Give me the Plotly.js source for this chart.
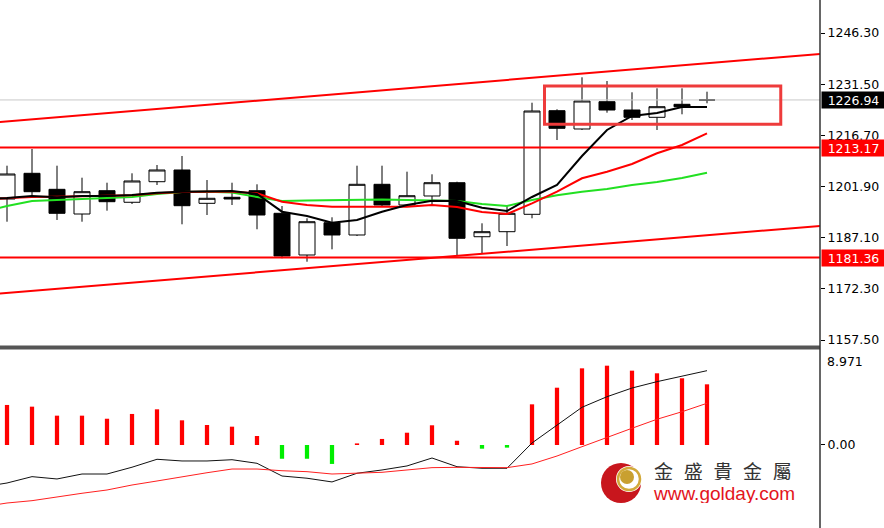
<!DOCTYPE html>
<html><head><meta charset="utf-8">
<script src="https://cdn.plot.ly/plotly-3.0.1.min.js"></script>
<style>html,body{margin:0;padding:0;background:#fff}#chart{width:884px;height:528px}</style>
</head><body><div id="chart"></div>
<script>
// ---- data ----
const candleIdx = [0,1,2,3,4,5,6,7,8,9,10,11,12,13,14,15,16,17,18,19,20,21,22,23,24,25,26,27,28];
const openP  = [1198.29,1205.72,1201.09,1193.95,1200.69,1197.34,1203.29,1206.68,1197.04,1198.78,1200.69,1194.15,1182.09,1191.43,1187.88,1202.54,1196.55,1199.16,1203.00,1187.38,1188.83,1193.86,1223.83,1218.54,1226.43,1224.03,1221.92,1225.68,1226.94];
const highP  = [1207.92,1212.75,1207.92,1204.45,1203.00,1205.72,1208.12,1210.73,1203.78,1203.00,1202.54,1196.26,1192.71,1193.00,1207.92,1207.92,1206.19,1205.43,1203.29,1191.26,1196.55,1226.14,1224.24,1233.49,1232.42,1229.15,1230.31,1230.31,1229.33];
const lowP   = [1191.72,1199.16,1192.22,1191.72,1194.91,1196.84,1202.34,1190.97,1193.66,1196.55,1189.53,1181.14,1180.15,1183.74,1187.59,1196.06,1196.06,1196.55,1182.09,1182.58,1184.69,1192.71,1215.35,1218.25,1223.25,1221.14,1218.25,1222.79,1225.97];
const closeP = [1205.52,1200.40,1194.15,1200.40,1197.51,1203.50,1206.68,1196.35,1198.49,1198.29,1193.66,1181.80,1191.72,1187.88,1202.54,1196.55,1199.24,1203.00,1186.92,1188.83,1194.15,1223.74,1218.74,1226.64,1224.03,1221.92,1224.99,1224.99,1226.94];

const lineIdx = [-1,0,1,2,3,4,5,6,7,8,9,10,11,12,13,14,15,16,17,18,19,20,21,22,23,24,25,26,27,28];
const maBlack = [1198.29,1198.58,1199.16,1198.78,1199.16,1199.16,1199.45,1200.11,1200.40,1200.60,1200.60,1199.74,1194.62,1193.37,1191.43,1192.20,1194.62,1196.55,1197.80,1197.71,1195.77,1194.82,1198.87,1202.34,1210.73,1218.25,1222.30,1223.17,1224.90,1224.90];
const maRed   = [1198.14,1198.49,1198.87,1198.96,1199.16,1199.16,1199.36,1199.94,1200.32,1200.40,1200.40,1199.94,1197.51,1196.55,1196.06,1196.06,1196.06,1196.06,1196.55,1195.98,1194.53,1193.95,1197.04,1200.40,1204.28,1206.19,1208.41,1211.51,1213.91,1217.29];
const maGreen = [1194.53,1196.26,1197.71,1198.00,1198.29,1198.43,1198.87,1199.74,1200.32,1200.40,1200.17,1198.87,1197.71,1197.86,1198.00,1198.14,1198.14,1198.00,1197.86,1197.71,1196.84,1196.26,1198.00,1199.36,1200.40,1201.18,1202.34,1203.21,1204.37,1205.90];

const macdHist  = [3.78,3.62,2.77,2.77,2.48,2.93,3.37,2.33,1.89,1.73,0.85,-1.30,-1.30,-1.79,0.15,0.57,1.16,1.86,0.40,-0.35,-0.25,3.84,5.41,7.24,7.49,7.02,6.77,6.30,5.73];
const macdBlack = [-3.97,-3.59,-2.99,-3.21,-2.74,-2.74,-2.10,-1.35,-1.51,-1.51,-1.39,-1.73,-2.93,-3.14,-3.49,-2.67,-2.36,-1.98,-1.23,-2.05,-2.20,-2.20,0.19,1.89,3.56,4.56,5.38,5.98,6.52,7.02];
const macdRed   = [-5.85,-5.48,-5.26,-4.88,-4.56,-4.25,-3.78,-3.40,-2.99,-2.62,-2.27,-2.27,-2.43,-2.52,-2.74,-2.67,-2.58,-2.36,-2.14,-2.11,-2.14,-2.14,-1.79,-1.04,-0.16,0.73,1.58,2.43,3.14,3.94];

const priceTicks  = [1157.50,1172.30,1187.10,1201.90,1216.70,1231.50,1246.30];
const priceLabels = ['1157.50','1172.30','1187.10','1201.90','1216.70','1231.50','1246.30'];
const macdMax = 8.971;
const lastPrice = 1226.94;
const levelPrices = [1213.17, 1181.36];
const channelX = [-1, 33];
const channelUpperY = [1220.13, 1240.54];
const channelLowerY = [1170.52, 1190.79];
const boxX = [21.5, 30.95];
const boxY = [1219.9, 1230.97];

// ---- layout helpers (pixel -> paper) ----
const W = 884, H = 528, PLOT_R = 820;
const px = x => x / W;
const py = y => (H - y) / H;

const traces = [];
traces.push({x: channelX, y: [lastPrice, lastPrice], mode:'lines', line:{color:'#c8c8c8', width:1}, hoverinfo:'skip', xaxis:'x', yaxis:'y'});
levelPrices.forEach(p => traces.push({x: channelX, y:[p,p], mode:'lines', line:{color:'#ff0000', width:2}, hoverinfo:'skip', xaxis:'x', yaxis:'y'}));
traces.push({x: channelX, y: channelUpperY, mode:'lines', line:{color:'#ff0000', width:2}, hoverinfo:'skip'});
traces.push({x: channelX, y: channelLowerY, mode:'lines', line:{color:'#ff0000', width:2}, hoverinfo:'skip'});
traces.push({
  type:'candlestick', x: candleIdx, open: openP, high: highP, low: lowP, close: closeP,
  increasing:{line:{color:'#000', width:1}, fillcolor:'#ffffff'},
  decreasing:{line:{color:'#000', width:1}, fillcolor:'#000000'},
  whiskerwidth:0, hoverinfo:'skip', xaxis:'x', yaxis:'y'
});
traces.push({x: lineIdx, y: maGreen, mode:'lines', line:{color:'#22e022', width:2}, hoverinfo:'skip'});
traces.push({x: lineIdx, y: maRed, mode:'lines', line:{color:'#ff0000', width:2}, hoverinfo:'skip'});
traces.push({x: lineIdx, y: maBlack, mode:'lines', line:{color:'#000000', width:2}, hoverinfo:'skip'});
traces.push({type:'bar', x: candleIdx, y: macdHist, width:0.17,
  marker:{color: macdHist.map(v => v >= 0 ? '#ff0000' : '#00ee00'), line:{width:0}},
  hoverinfo:'skip', xaxis:'x', yaxis:'y2'});
traces.push({x: lineIdx, y: macdBlack, mode:'lines', line:{color:'#111', width:1}, hoverinfo:'skip', xaxis:'x', yaxis:'y2'});
traces.push({x: lineIdx, y: macdRed, mode:'lines', line:{color:'#ff2020', width:1}, hoverinfo:'skip', xaxis:'x', yaxis:'y2'});

const tickFont = {family:'DejaVu Sans', size:12.5, color:'#000'};
const boxFont = {family:'DejaVu Sans', size:12.5, color:'#fff'};
const layout = {
  width: W, height: H, margin:{l:0,r:0,t:0,b:0}, showlegend:false,
  paper_bgcolor:'#fff', plot_bgcolor:'#fff', boxgap:0.36, boxgroupgap:0,
  xaxis:{domain:[0, px(PLOT_R)], range:[-0.28, 32.52], showticklabels:false, showgrid:false, zeroline:false, showline:false, ticks:'', rangeslider:{visible:false}, fixedrange:true},
  yaxis:{domain:[py(347), 1], range:[1155.48, 1255.85], side:'right', tickvals: priceTicks, ticktext: priceLabels,
    ticks:'outside', ticklen:4, tickcolor:'#000', tickfont: tickFont, showgrid:false, zeroline:false, showline:false},
  yaxis2:{domain:[0, py(350)], range:[-7.84, macdMax], side:'right', tickvals:[0], ticktext:['0.00'],
    ticks:'outside', ticklen:4, tickcolor:'#000', tickfont: tickFont, showgrid:false, zeroline:false, showline:false, anchor:'x'},
  shapes:[
    {type:'rect', xref:'x', yref:'y', x0: boxX[0], x1: boxX[1], y0: boxY[0], y1: boxY[1], line:{color:'#ee3b3b', width:3}, fillcolor:'rgba(0,0,0,0)'},
    {type:'line', xref:'paper', yref:'paper', x0: 0, x1: px(PLOT_R), y0: py(347.5), y1: py(347.5), line:{color:'#555', width:4}},
    {type:'line', xref:'paper', yref:'paper', x0: px(PLOT_R), x1: px(PLOT_R), y0: 0, y1: 1, line:{color:'#333', width:1.5}},
    {type:'circle', xref:'paper', yref:'paper', x0: px(601), x1: px(641), y0: py(503), y1: py(463), fillcolor:'#c8161d', line:{width:0}},
    {type:'circle', xref:'paper', yref:'paper', x0: px(616), x1: px(642), y0: py(492), y1: py(466), fillcolor:'#ffffff', line:{width:0}},
    {type:'circle', xref:'paper', yref:'paper', x0: px(618), x1: px(640), y0: py(490), y1: py(468), fillcolor:'rgba(0,0,0,0)', line:{color:'#d2a93a', width:2.5}},
    {type:'circle', xref:'paper', yref:'paper', x0: px(620), x1: px(634), y0: py(484), y1: py(470), fillcolor:'#c9a030', line:{width:0}}
  ],
  annotations:[
    {xref:'paper', yref:'y', x: px(821), y: lastPrice, xanchor:'left', yanchor:'middle', text:'1226.94', showarrow:false,
     bgcolor:'#000', font: boxFont, width:61, height:14, align:'center', borderpad:1},
    {xref:'paper', yref:'y', x: px(821), y: levelPrices[0], xanchor:'left', yanchor:'middle', text:'1213.17', showarrow:false,
     bgcolor:'#ff0000', font: boxFont, width:61, height:14, align:'center', borderpad:1},
    {xref:'paper', yref:'y', x: px(821), y: levelPrices[1], xanchor:'left', yanchor:'middle', text:'1181.36', showarrow:false,
     bgcolor:'#ff0000', font: boxFont, width:61, height:14, align:'center', borderpad:1},
    {xref:'paper', yref:'paper', x: px(825), y: py(361), xanchor:'left', yanchor:'middle', text: macdMax.toFixed(3), showarrow:false,
     font: tickFont},
    {xref:'paper', yref:'paper', x: px(723), y: py(470), xanchor:'center', yanchor:'middle', text:'金\u2002\u200a盛\u2002\u200a貴\u2002\u200a金\u2002\u200a屬', showarrow:false,
     font:{family:'Noto Sans CJK TC', size:19, color:'#333'}, height:20},
    {xref:'paper', yref:'paper', x: px(724), y: py(493), xanchor:'center', yanchor:'middle', text:'www.golday.com', showarrow:false,
     font:{family:'Liberation Sans, Arial', size:19, color:'#e3141c'}, height:19}
  ]
};
Plotly.newPlot('chart', traces, layout, {displayModeBar:false, staticPlot:true});
</script>
</body></html>
